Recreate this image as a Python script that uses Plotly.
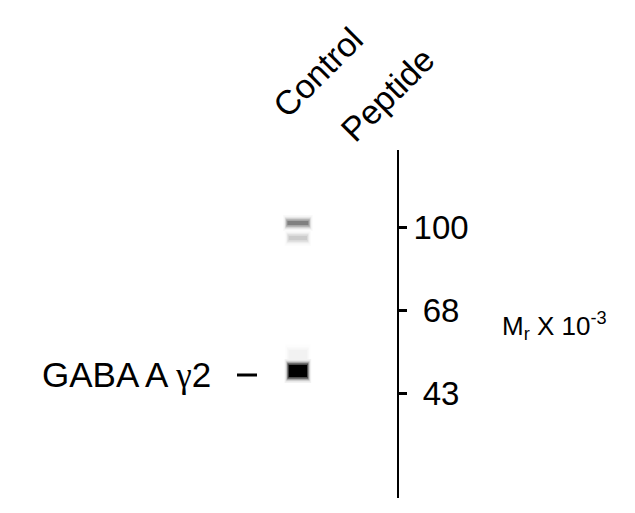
import plotly.graph_objects as go

# lanes of the blot
lanes = ["Control", "Peptide"]
lane_x = [1, 2]

# molecular weight ladder (kDa) and migration distance on the gel
ladder_kda = ["100", " 68", " 43"]
ladder_mig = [77, 160, 243]

# bands seen on the blot: lane, migration, darkness (0..1), half width (lanes), thickness (px)
band_lane = [1, 1, 1, 1]
band_mig = [73, 88, 207, 221]
band_level = [0.5, 0.2, 0.05, 1.0]
band_half = [0.15, 0.13, 0.13, 0.13]
band_thick = [4, 4, 14, 12]

target_name = "GABA A <span style='font-family:Liberation Serif'>γ</span>2"
target_band = 3

W, H = 635, 513
FONT = "Liberation Sans, Arial, sans-serif"


def grey(level):
    v = int(round(255 * (1 - level)))
    return "rgb(%d,%d,%d)" % (v, v, v)


fig = go.Figure()

# each band drawn as stacked lines, widest/lightest first, to give a soft edge
for ln, mig, lev, hw, th in zip(band_lane, band_mig, band_level, band_half, band_thick):
    for frac, grow in [(0.05, 12), (0.12, 9), (0.25, 7), (0.45, 5), (0.7, 3), (1.0, 0)]:
        ext = hw + grow * 0.005
        fig.add_trace(go.Scatter(
            x=[ln - 0.03 - ext, ln - 0.03 + ext], y=[mig, mig],
            mode="lines",
            line=dict(color=grey(lev * frac), width=th + grow),
            hoverinfo="skip", showlegend=False))

fig.update_layout(
    width=W, height=H,
    margin=dict(l=0, r=0, t=0, b=0),
    paper_bgcolor="white", plot_bgcolor="white",
    font=dict(family=FONT, color="black"),
    xaxis=dict(domain=[0, 397 / W], range=[-3.2857, 2.3857], visible=False),
    yaxis=dict(domain=[1 - 498 / H, 1 - 150 / H], range=[348, 0], side="right",
               showline=True, linecolor="black", linewidth=2,
               ticks="outside", ticklen=8, tickwidth=3, tickcolor="black",
               tickvals=ladder_mig, ticktext=ladder_kda,
               tickfont=dict(size=33, family=FONT),
               showgrid=False, zeroline=False),
)

# lane labels
lane_pos = [(318, 72), (387, 95)]
for name, (px, py) in zip(lanes, lane_pos):
    fig.add_annotation(x=px / W, y=1 - py / H, xref="paper", yref="paper",
                       text=name, textangle=-45, showarrow=False,
                       font=dict(size=34), xanchor="center", yanchor="middle")

# target label and dash
fig.add_annotation(x=213 / W, y=band_mig[target_band] + 4, xref="paper", yref="y",
                   text=target_name, showarrow=False, font=dict(size=35),
                   xanchor="right", yanchor="middle")
fig.add_shape(type="line", xref="paper", yref="y",
              x0=237 / W, x1=257 / W,
              y0=band_mig[target_band] + 4, y1=band_mig[target_band] + 4,
              line=dict(color="black", width=3))

fig.add_annotation(x=500 / W, y=1 - 326 / H, xref="paper", yref="paper",
                   text="M<sub>r</sub> X 10<sup>-3</sup>", showarrow=False,
                   font=dict(size=26), xanchor="left", yanchor="middle")

fig.write_html("out.html", config={"displayModeBar": False},
               post_script="document.body.style.margin='0';")
